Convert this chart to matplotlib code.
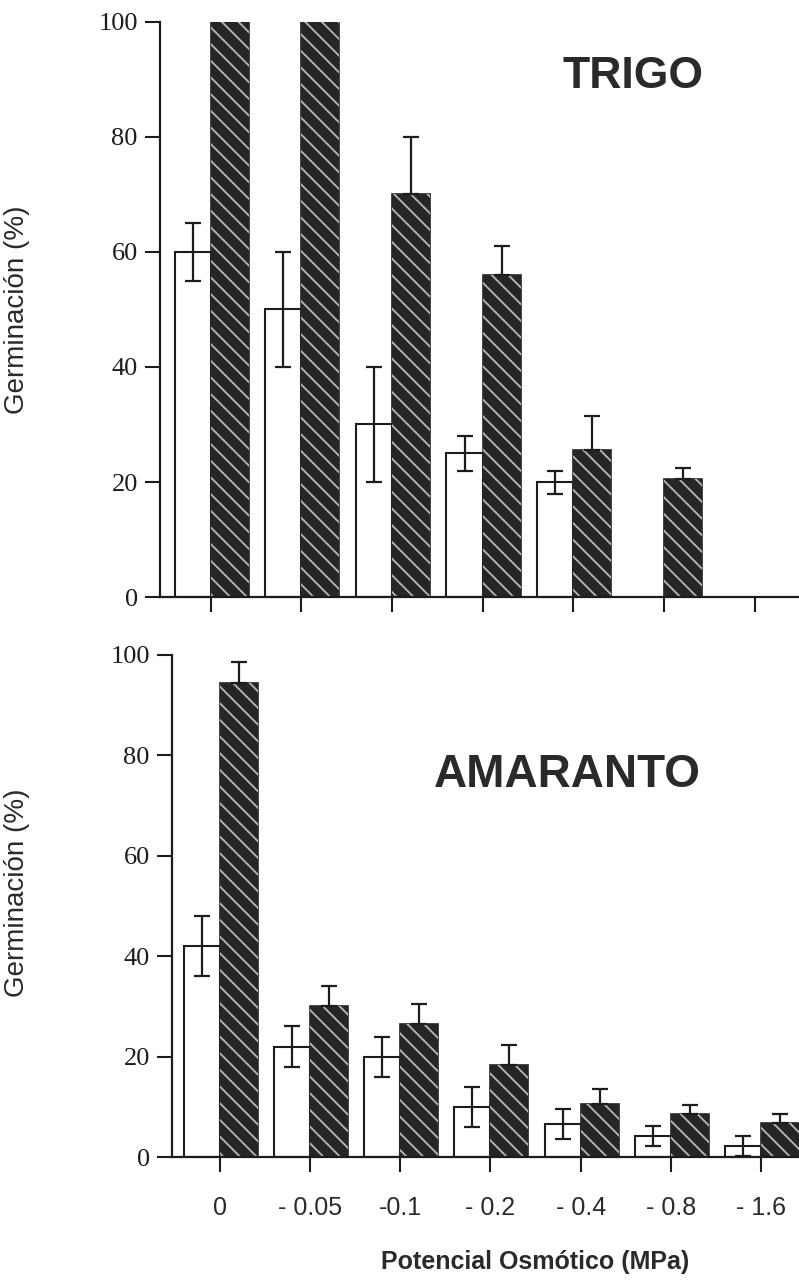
import matplotlib
matplotlib.use('Agg')
import matplotlib.pyplot as plt
import numpy as np

# potencial osmótico (MPa)
condiciones = ['0', '- 0.05', '-0.1', '- 0.2', '- 0.4', '- 0.8', '- 1.6']

# TRIGO: barras blancas (control) y oscuras (tratadas)
trigo_blanco = [60, 50, 30, 25, 20, 0, 0]
trigo_blanco_err = [5, 10, 10, 3, 2, 0, 0]
trigo_oscuro = [100, 100, 70, 56, 25.5, 20.5, 0]
trigo_oscuro_err = [0, 0, 10, 5, 6, 2, 0]

# AMARANTO
amar_blanco = [42, 22, 20, 10, 6.5, 4.2, 2.2]
amar_blanco_err = [6, 4, 4, 4, 3, 2, 2]
amar_oscuro = [94.5, 30, 26.5, 18.3, 10.6, 8.6, 6.8]
amar_oscuro_err = [4, 4, 4, 4, 3, 1.8, 1.8]

yticks = [0, 20, 40, 60, 80, 100]

tinta = '#1c1c1c'
plt.rcParams['font.family'] = ['Liberation Sans', 'DejaVu Sans']
plt.rcParams['hatch.linewidth'] = 1.3

fig = plt.figure(figsize=(7.99, 12.85), dpi=100)
ax1 = fig.add_axes([0.2003, 0.5354, 0.7997, 0.4475])
ax2 = fig.add_axes([0.2153, 0.0996, 0.7847, 0.3907])

x = np.arange(len(condiciones))
w = 0.40
wo = 0.42


def panel(ax, blanco, blanco_err, oscuro, oscuro_err, xlim):
    b = np.array(blanco, dtype=float)
    o = np.array(oscuro, dtype=float)
    mb = b > 0
    mo = o > 0
    # barras blancas con error simétrico
    ax.bar(x[mb] - w, b[mb], width=w, align='edge',
           color='white', edgecolor=tinta, linewidth=1.5, zorder=2)
    ax.errorbar(x[mb] - w / 2, b[mb], yerr=np.array(blanco_err)[mb], fmt='none',
                ecolor=tinta, elinewidth=1.6, capsize=5.5, capthick=1.6, zorder=3)
    # barras oscuras con trama, error solo hacia arriba
    ax.bar(x[mo], o[mo], width=wo, align='edge',
           color='#262626', edgecolor='#262626', linewidth=1.2, zorder=2)
    ax.bar(x[mo], o[mo], width=wo, align='edge', facecolor='none',
           edgecolor='#b8b8b8', hatch='\\\\', linewidth=0, zorder=2.5)
    oe = np.array(oscuro_err, dtype=float)
    me = mo & (oe > 0)
    ax.errorbar(x[me] + wo / 2, o[me], yerr=[np.zeros(me.sum()), oe[me]], fmt='none',
                ecolor=tinta, elinewidth=1.6, capsize=5.5, capthick=1.6, zorder=3)

    ax.set_xlim(*xlim)
    ax.set_ylim(0, 100)
    ax.set_yticks(yticks)
    ax.set_xticks(x)
    for s in ['top', 'right']:
        ax.spines[s].set_visible(False)
    for s in ['left', 'bottom']:
        ax.spines[s].set_linewidth(1.6)
        ax.spines[s].set_color(tinta)
    ax.tick_params(axis='both', direction='out', length=11, width=1.5, color=tinta)
    ax.tick_params(axis='y', pad=5, labelsize=19, labelcolor=tinta)
    for t in ax.get_yticklabels():
        t.set_fontfamily(['Liberation Serif', 'DejaVu Serif'])
    ax.set_ylabel('Germinación (%)', fontsize=20, color='#2a2a2a')


panel(ax1, trigo_blanco, trigo_blanco_err, trigo_oscuro, trigo_oscuro_err, (-0.56, 6.49))
ax1.set_xticklabels([])
ax1.yaxis.set_label_coords(-0.203, 0.5)
ax1.text(0.74, 0.905, 'TRIGO', transform=ax1.transAxes, ha='center', va='center',
         fontsize=32, fontweight='bold', color='#2a2a2a')

panel(ax2, amar_blanco, amar_blanco_err, amar_oscuro, amar_oscuro_err, (-0.53, 6.42))
ax2.set_xticklabels(condiciones, fontsize=18, color='#2a2a2a')
ax2.tick_params(axis='x', pad=17)
ax2.yaxis.set_label_coords(-0.226, 0.526)
ax2.text(0.63, 0.76, 'AMARANTO', transform=ax2.transAxes, ha='center', va='center',
         fontsize=33, fontweight='bold', color='#2a2a2a')

fig.text(535 / 799, 1 - 1262 / 1285, 'Potencial Osmótico (MPa)', ha='center', va='center',
         fontsize=18, fontweight='bold', color='#2a2a2a')

fig.savefig('out.png', dpi=100, facecolor='white')
